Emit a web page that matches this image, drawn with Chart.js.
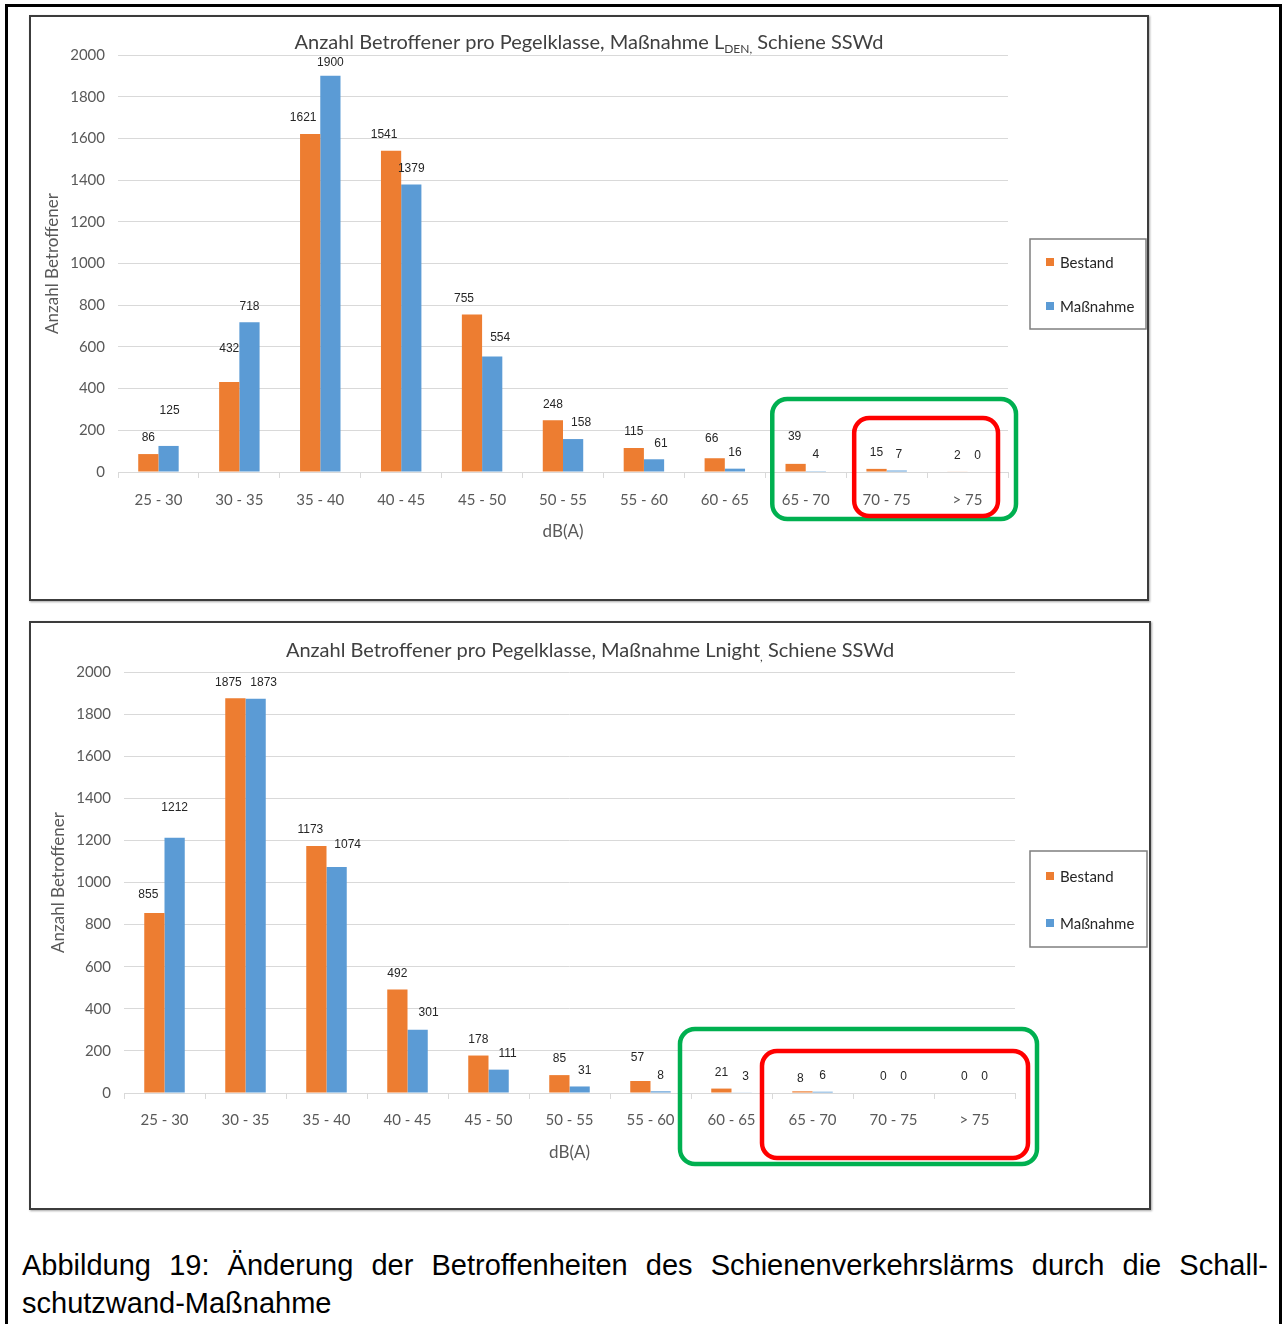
<!DOCTYPE html>
<html lang="de">
<head>
<meta charset="utf-8">
<title>Abbildung 19 – Betroffene pro Pegelklasse, Schiene SSWd</title>
<script src="https://cdn.jsdelivr.net/npm/chart.js@4.4.1/dist/chart.umd.min.js"></script>
<style>
  html, body { margin: 0; padding: 0; background: #fff; }
  body { width: 1285px; height: 1324px; position: relative; overflow: hidden; }
  .frame { position: absolute; left: 5px; top: 4px; width: 1271px; height: 1400px; border: 3px solid #000; }
  .box { position: absolute; border: 2px solid #3c3c3c; box-shadow: 1px 1px 2px rgba(0,0,0,.35); background: #fff; }
  #box1 { left: 29px; top: 15px; width: 1116px; height: 582px; }
  #box2 { left: 29px; top: 621px; width: 1118px; height: 585px; }
  canvas { display: block; }
  .caption { position: absolute; left: 22px; top: 1246px; width: 1246px;
             font-family: "Liberation Sans", Arial, sans-serif; font-size: 29px; line-height: 38px; color: #000; }
  .caption .l1 { display: block; text-align: justify; text-align-last: justify; }
  .caption .l2 { display: block; }
</style>
</head>
<body>
<div class="frame"></div>
<div class="box" id="box1"><canvas id="chartDen" width="1116" height="582"></canvas></div>
<div class="box" id="box2"><canvas id="chartNight" width="1118" height="585"></canvas></div>
<div class="caption">
  <span class="l1">Abbildung 19: Änderung der Betroffenheiten des Schienenverkehrslärms durch die Schall-</span>
  <span class="l2">schutzwand-Maßnahme</span>
</div>

<script>
// Pegelklassen (dB(A))
const categories = ['25 - 30', '30 - 35', '35 - 40', '40 - 45', '45 - 50', '50 - 55',
                    '55 - 60', '60 - 65', '65 - 70', '70 - 75', '> 75'];
const seriesNames = ['Bestand', 'Maßnahme'];

// Anzahl Betroffener, L_DEN
const denBestand   = [86, 432, 1621, 1541, 755, 248, 115, 66, 39, 15, 2];
const denMassnahme = [125, 718, 1900, 1379, 554, 158, 61, 16, 4, 7, 0];

// Anzahl Betroffener, L_night
const nightBestand   = [855, 1875, 1173, 492, 178, 85, 57, 21, 8, 0, 0];
const nightMassnahme = [1212, 1873, 1074, 301, 111, 31, 8, 3, 6, 0, 0];

// y axis range
const yMin = 0, yMax = 2000, yStep = 200;

const COLORS = ['#ED7D31', '#5B9BD5'];
const FONT = 'Lato, "Open Sans", sans-serif';

// Value labels above each bar, with optional per-bar nudges
const valueLabels = {
  id: 'valueLabels',
  afterDatasetsDraw(chart, args, opts) {
    const ctx = chart.ctx;
    ctx.save();
    ctx.font = opts.font;
    ctx.fillStyle = opts.color;
    ctx.textAlign = 'center';
    ctx.textBaseline = 'middle';
    chart.data.datasets.forEach((ds, di) => {
      const meta = chart.getDatasetMeta(di);
      const nud = (opts.nudge && opts.nudge[di]) || {};
      meta.data.forEach((bar, i) => {
        const n = nud[i] || [0, 0];
        ctx.fillText(String(ds.data[i]), bar.x + n[0], bar.y - opts.gap + n[1]);
      });
    });
    ctx.restore();
  }
};

// Title with subscript segments
const richTitle = {
  id: 'richTitle',
  afterDraw(chart, args, opts) {
    const ctx = chart.ctx;
    ctx.save();
    ctx.fillStyle = opts.color;
    ctx.textBaseline = 'alphabetic';
    const bigFont = `${opts.size}px ${FONT}`;
    const smallFont = `${Math.round(opts.size * 0.62)}px ${FONT}`;
    let total = 0;
    opts.parts.forEach(p => { ctx.font = p.sub ? smallFont : bigFont; total += ctx.measureText(p.text).width; });
    let x = chart.width / 2 - total / 2;
    opts.parts.forEach(p => {
      ctx.font = p.sub ? smallFont : bigFont;
      ctx.fillText(p.text, x, opts.baseline + (p.sub ? opts.size * 0.22 : 0));
      x += ctx.measureText(p.text).width;
    });
    ctx.restore();
  }
};

// Framed legend at the right side
const boxLegend = {
  id: 'boxLegend',
  afterDraw(chart, args, opts) {
    const ctx = chart.ctx;
    ctx.save();
    ctx.strokeStyle = '#7f7f7f';
    ctx.lineWidth = 1.5;
    ctx.strokeRect(opts.x, opts.y, opts.w, opts.h);
    ctx.font = `${opts.size}px ${FONT}`;
    ctx.textBaseline = 'middle';
    ctx.textAlign = 'left';
    chart.data.datasets.forEach((ds, i) => {
      const cy = opts.rows[i];
      ctx.fillStyle = ds.backgroundColor;
      ctx.fillRect(opts.x + 16, cy - 4, 8, 8);
      ctx.fillStyle = '#262626';
      ctx.fillText(ds.label, opts.x + 30, cy + 1);
    });
    ctx.restore();
  }
};

// Rounded highlight frames around the upper level classes
const highlightFrames = {
  id: 'highlightFrames',
  afterDraw(chart, args, opts) {
    const ctx = chart.ctx;
    const xs = chart.scales.x;
    const area = chart.chartArea;
    const w = (xs.right - xs.left) / chart.data.labels.length;
    ctx.save();
    ctx.lineWidth = opts.lineWidth;
    opts.frames.forEach(f => {
      const l = xs.left + f.fromIndex * w + f.dLeft;
      const r = area.right + f.dRight;
      const t = area.bottom + f.dTop;
      const b = area.bottom + f.dBottom;
      ctx.strokeStyle = f.color;
      ctx.beginPath();
      ctx.roundRect(l, t, r - l, b - t, opts.radius);
      ctx.stroke();
    });
    ctx.restore();
  }
};

function makeChart(canvasId, bestand, massnahme, cfg) {
  return new Chart(document.getElementById(canvasId), {
    type: 'bar',
    data: {
      labels: categories,
      datasets: [
        { label: seriesNames[0], data: bestand, backgroundColor: COLORS[0] },
        { label: seriesNames[1], data: massnahme, backgroundColor: COLORS[1] }
      ]
    },
    plugins: [valueLabels, richTitle, boxLegend, highlightFrames],
    options: {
      responsive: false,
      animation: false,
      devicePixelRatio: 1,
      categoryPercentage: 0.5,
      barPercentage: 1.0,
      layout: { padding: { left: 0, right: cfg.padRight, top: cfg.padTop, bottom: 0 } },
      plugins: {
        legend: { display: false },
        title: { display: false },
        tooltip: { enabled: false },
        valueLabels: { font: '12px "Liberation Sans", Arial, sans-serif', color: '#262626', gap: 16, nudge: cfg.nudge },
        richTitle: { parts: cfg.title, size: 20, color: '#404040', baseline: cfg.titleBaseline },
        boxLegend: cfg.legend,
        highlightFrames: { lineWidth: 4.5, radius: 15, frames: cfg.frames }
      },
      scales: {
        x: {
          grid: { display: true, drawOnChartArea: false, drawTicks: true, tickLength: 6, color: '#d9d9d9', offset: true },
          border: { display: true, color: '#d9d9d9', width: 1 },
          ticks: { font: { family: FONT, size: 15 }, color: '#595959', padding: cfg.xTickPad, maxRotation: 0, autoSkip: false },
          title: { display: true, text: 'dB(A)', font: { family: FONT, size: 17 }, color: '#595959',
                   padding: { top: 0, bottom: cfg.xTitlePad } },
          afterFit(s) { s.height = cfg.xHeight; }
        },
        y: {
          min: yMin, max: yMax,
          ticks: { stepSize: yStep, font: { family: FONT, size: 15 }, color: '#595959', padding: 13,
                   callback: v => String(v) },
          grid: { color: '#d9d9d9', drawTicks: false },
          border: { display: false },
          title: { display: true, text: 'Anzahl Betroffener', font: { family: FONT, size: 17 }, color: '#595959',
                   padding: { top: cfg.yTitlePad, bottom: 0 } },
          afterFit(s) { s.width = cfg.yWidth; }
        }
      }
    }
  });
}

makeChart('chartDen', denBestand, denMassnahme, {
  padRight: 139, padTop: 38, xHeight: 127, yWidth: 87,
  xTickPad: 13, xTitlePad: 57, yTitlePad: 11,
  titleBaseline: 32,
  title: [
    { text: 'Anzahl Betroffener pro Pegelklasse, Maßnahme L', sub: false },
    { text: 'DEN,', sub: true },
    { text: ' Schiene SSWd', sub: false }
  ],
  legend: { x: 999, y: 222, w: 116, h: 90, rows: [245, 289], size: 15 },
  frames: [
    { color: '#00B050', fromIndex: 8, dLeft: 7, dRight: 8, dTop: -73, dBottom: 47 },
    { color: '#FF0000', fromIndex: 9, dLeft: 8, dRight: -10, dTop: -54, dBottom: 44 }
  ],
  nudge: {
    0: { 1: [0, -17], 2: [-7, 0], 3: [-7, 0], 4: [-8, 0], 7: [-3, -4], 8: [-1, -11] },
    1: { 0: [1, -19], 2: [0, 3], 4: [8, -3], 5: [8, 0], 6: [7, 0], 9: [2, 0] }
  }
});

makeChart('chartNight', nightBestand, nightMassnahme, {
  padRight: 134, padTop: 49, xHeight: 115, yWidth: 93,
  xTickPad: 12, xTitlePad: 45, yTitlePad: 17,
  titleBaseline: 34,
  title: [
    { text: 'Anzahl Betroffener pro Pegelklasse, Maßnahme Lnight', sub: false },
    { text: ',', sub: true },
    { text: ' Schiene SSWd', sub: false }
  ],
  legend: { x: 999, y: 228, w: 117, h: 96, rows: [253, 300], size: 15 },
  frames: [
    { color: '#00B050', fromIndex: 7, dLeft: -11, dRight: 22, dTop: -64, dBottom: 71 },
    { color: '#FF0000', fromIndex: 8, dLeft: -10, dRight: 13, dTop: -42, dBottom: 65 }
  ],
  nudge: {
    0: { 0: [-6, -2], 1: [-7, 0], 2: [-6, 0], 6: [-3, -7], 8: [-2, 3] },
    1: { 0: [0, -14], 1: [8, 0], 2: [11, -6], 3: [11, -1], 4: [9, 0], 5: [5, 0], 7: [4, 0] }
  }
});
</script>
</body>
</html>
